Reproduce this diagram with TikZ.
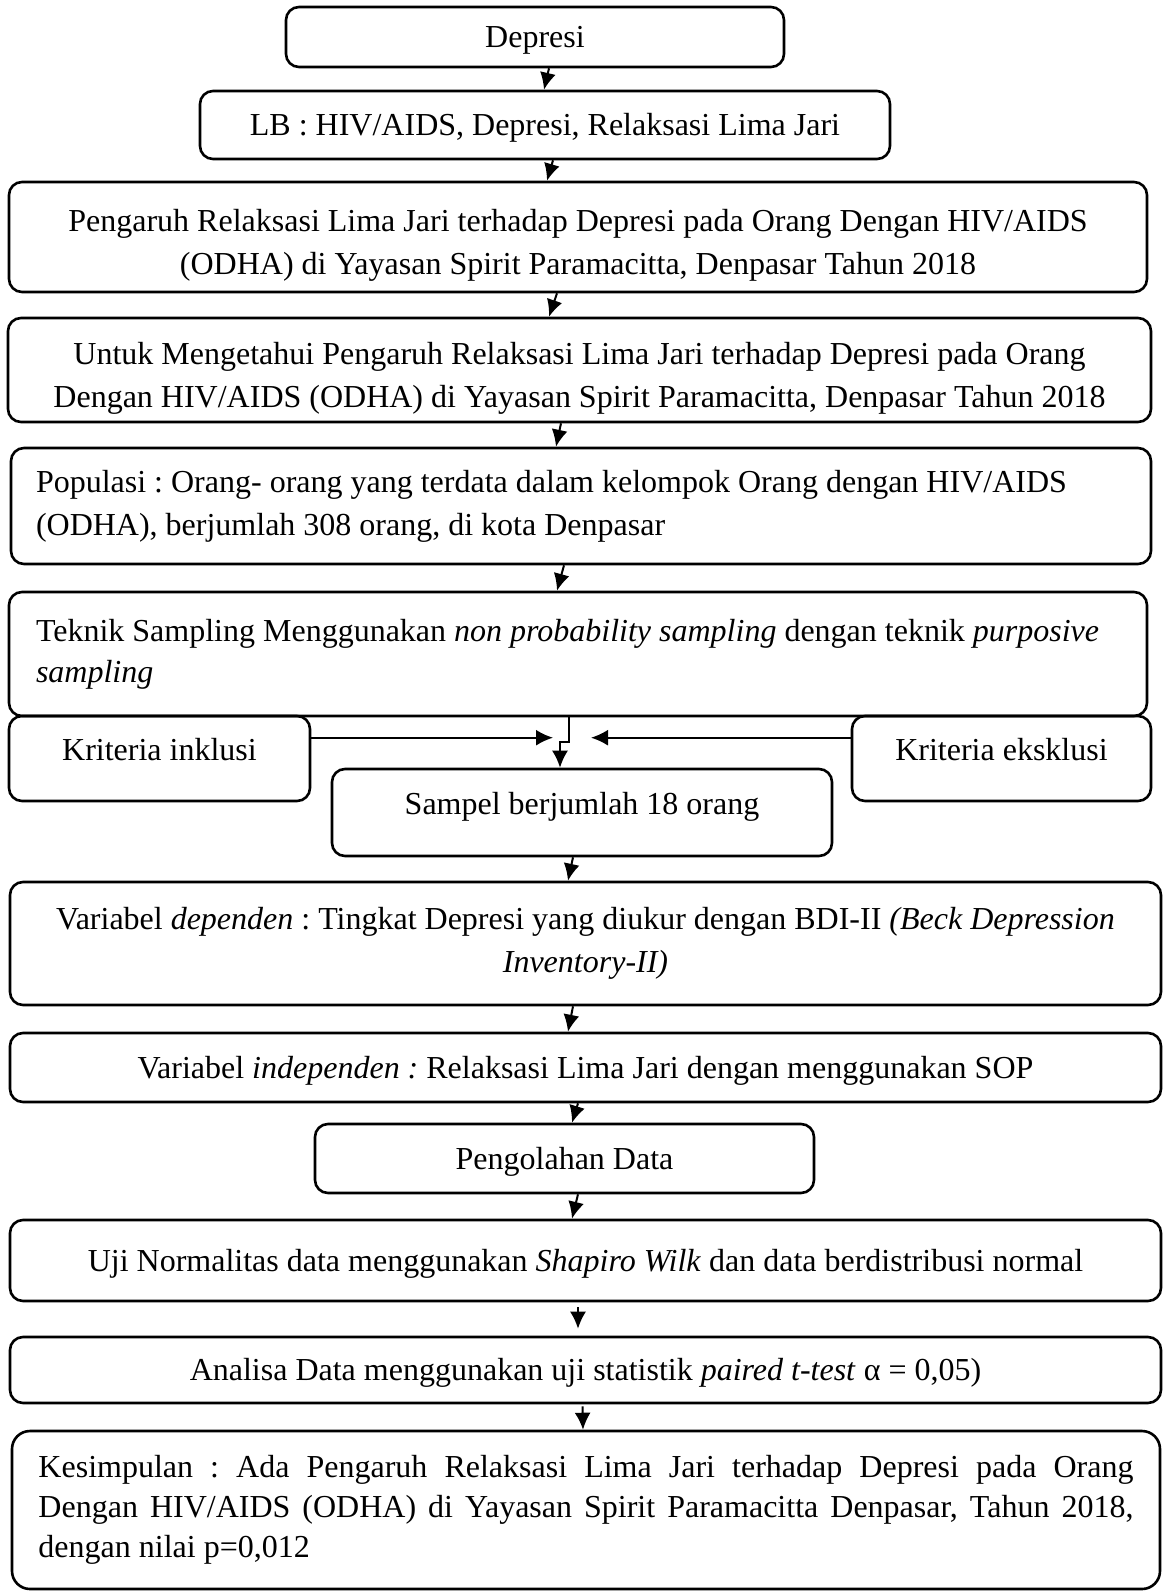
\documentclass[tikz,border=0pt]{standalone}
\usepackage{fontspec}
\setmainfont{Liberation Serif}
\usetikzlibrary{arrows.meta}
\usetikzlibrary{positioning}
\frenchspacing
\tikzstyle{every node}+=[inner sep=0pt]
\tikzstyle{block} = [rectangle, draw, line width=1.3pt, rounded corners=6.5pt, align=center]
\tikzstyle{single} = [text height=11.2pt, text depth=0.6pt]
\tikzstyle{raised} = [text height=11.2pt, text depth=9.6pt]
\tikzstyle{line} = [draw, line width=1pt, -{Latex[length=8.5pt,width=8pt]}]

\begin{document}
\begin{tikzpicture}[font=\fontsize{16pt}{21.5pt}\selectfont]
            \useasboundingbox (0,0) rectangle (582pt,-795.5pt);
            % Place nodes
            \node [block, single, minimum width=249pt, minimum height=30pt] (dep) at (267.5pt,-18.5pt) {Depresi};
            \node [block, single, below of=dep, node distance=44pt, xshift=5pt, minimum width=345pt, minimum height=34pt] (lb) {LB : HIV/AIDS, Depresi, Relaksasi Lima Jari};
            \node [block, below of=lb, node distance=56pt, xshift=16.5pt, minimum width=569pt, minimum height=55pt] (judul) {\rule{0pt}{19pt}Pengaruh Relaksasi Lima Jari terhadap Depresi pada Orang Dengan HIV/AIDS\\(ODHA) di Yayasan Spirit Paramacitta, Denpasar Tahun 2018};
            \node [block, below of=judul, node distance=66.5pt, xshift=0.75pt, minimum width=571.5pt, minimum height=52pt] (tujuan) {\rule{0pt}{19pt}Untuk Mengetahui Pengaruh Relaksasi Lima Jari terhadap Depresi pada Orang\\Dengan HIV/AIDS (ODHA) di Yayasan Spirit Paramacitta, Denpasar Tahun 2018};
            \node [block, below of=tujuan, node distance=68pt, xshift=0.75pt, minimum width=570pt, minimum height=58pt, text width=545pt, align=flush left] (pop) {\mbox{Populasi : Orang- orang yang terdata dalam kelompok Orang dengan HIV/AIDS}\\(ODHA), berjumlah 308 orang, di kota Denpasar};
            \node [block, below of=pop, node distance=74pt, xshift=-1.5pt, minimum width=569pt, minimum height=62pt, text width=542pt, align=flush left, font=\fontsize{16pt}{20.5pt}\selectfont] (teknik) {\mbox{Teknik Sampling Menggunakan \textit{non probability sampling} dengan teknik \textit{purposive}}\\\textit{sampling}};
            \node [block, raised, below of=teknik, node distance=79.25pt, xshift=2pt, minimum width=250pt, minimum height=43.5pt] (sampel) {Sampel berjumlah 18 orang};
            \node [block, raised, below of=teknik, node distance=52.25pt, xshift=-209.25pt, minimum width=150.5pt, minimum height=42.5pt] (inkl) {Kriteria inklusi};
            \node [block, raised, below of=teknik, node distance=52.25pt, xshift=211.75pt, minimum width=149.5pt, minimum height=42.5pt] (eksk) {Kriteria eksklusi};
            \node [block, below of=sampel, node distance=65.5pt, xshift=1.75pt, minimum width=575.5pt, minimum height=61.5pt] (vdep) {Variabel \textit{dependen} : Tingkat Depresi yang diukur dengan BDI-II \textit{(Beck Depression}\\\textit{Inventory-II)}};
            \node [block, single, below of=vdep, node distance=62pt, minimum width=575.5pt, minimum height=34.5pt] (vind) {Variabel \textit{independen :} Relaksasi Lima Jari dengan menggunakan SOP};
            \node [block, single, below of=vind, node distance=45.5pt, xshift=-10.5pt, minimum width=249.5pt, minimum height=34.5pt] (olah) {Pengolahan Data};
            \node [block, single, below of=olah, node distance=51pt, xshift=10.5pt, minimum width=575.5pt, minimum height=40.5pt] (uji) {Uji Normalitas data menggunakan \textit{Shapiro Wilk} dan data berdistribusi normal};
            \node [block, single, below of=uji, node distance=54.75pt, minimum width=575.5pt, minimum height=33pt] (analisa) {Analisa Data menggunakan uji statistik \textit{paired t-test} α = 0,05)};
            \node [block, below of=analisa, node distance=70pt, xshift=0.25pt, minimum width=574pt, minimum height=79pt, rounded corners=9pt, text width=547.5pt, align=justify, font=\fontsize{16pt}{20pt}\selectfont] (simpul) {Kesimpulan : Ada Pengaruh Relaksasi Lima Jari terhadap Depresi pada Orang\linebreak Dengan HIV/AIDS (ODHA) di Yayasan Spirit Paramacitta Denpasar, Tahun 2018,\linebreak dengan nilai p=0,012};
            % Draw edges
            \path [line] ([xshift=7pt]dep.south) -- ([xshift=-0.5pt]lb.north);
            \path [line] ([xshift=4pt]lb.south) -- ([xshift=-15.5pt]judul.north);
            \path [line] ([xshift=-10.5pt]judul.south) -- ([xshift=-15.25pt]tujuan.north);
            \path [line] ([xshift=-9.25pt]tujuan.south) -- ([xshift=-12.5pt]pop.north);
            \path [line] ([xshift=-8.5pt]pop.south) -- ([xshift=-10.5pt]teknik.north);
            \path [line] ([xshift=-4.5pt]teknik.south) |- ([xshift=-11pt, yshift=13pt]sampel.north) -- ([xshift=-11pt]sampel.north);
            \coordinate (tipL) at ([xshift=-14.5pt, yshift=15pt]sampel.north);
            \coordinate (tipR) at ([xshift=4.5pt, yshift=15pt]sampel.north);
            \path [line] (inkl.east |- tipL) -- (tipL);
            \path [line] (eksk.west |- tipR) -- (tipR);
            \path [line] ([xshift=-4.5pt]sampel.south) -- ([xshift=-8.75pt]vdep.north);
            \path [line] ([xshift=-6.25pt]vdep.south) -- ([xshift=-8.75pt]vind.north);
            \path [line] ([xshift=-3.75pt]vind.south) -- ([xshift=3.75pt]olah.north);
            \path [line] ([xshift=6.75pt]olah.south) -- ([xshift=-6.75pt]uji.north);
            \path [line] ([xshift=-3.75pt, yshift=-2.5pt]uji.south) -- ([xshift=-3.75pt, yshift=3.5pt]analisa.north);
            \path [line] ([xshift=-1.5pt, yshift=-1pt]analisa.south) -- ([xshift=-1.5pt]simpul.north);
          \end{tikzpicture}
\end{document}
